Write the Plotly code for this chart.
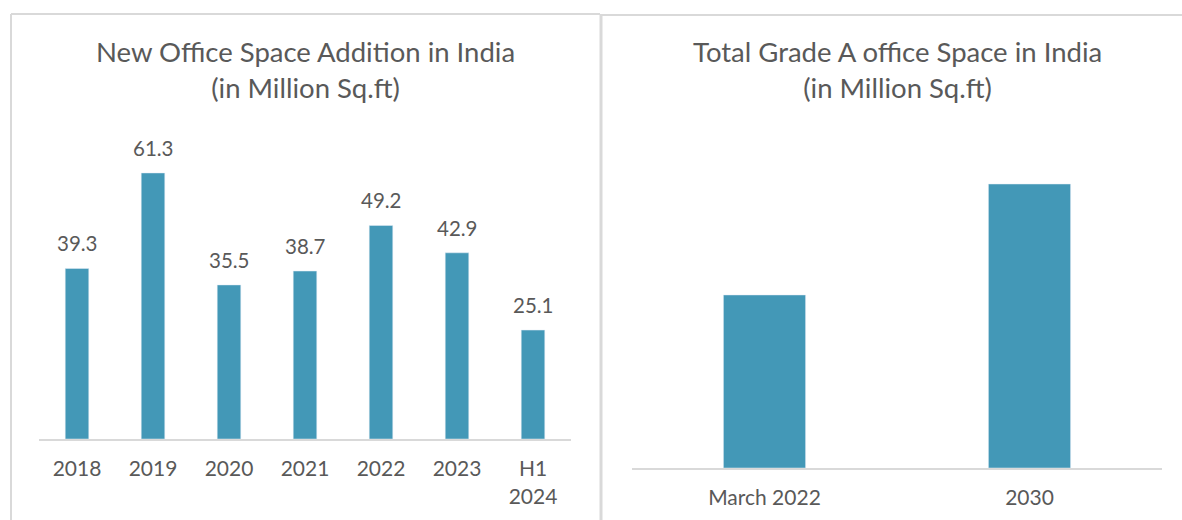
import plotly.graph_objects as go

# Data
left_categories = ["2018", "2019", "2020", "2021", "2022", "2023", "H1<br>2024"]
left_values = [39.3, 61.3, 35.5, 38.7, 49.2, 42.9, 25.1]
right_categories = ["March 2022", "2030"]
right_values = [800, 1313]

left_title = "New Office Space Addition in India<br>(in Million Sq.ft)"
right_title = "Total Grade A office Space in India<br>(in Million Sq.ft)"

W, H = 1182, 520
BAR = "#4398b7"
TXT = "#595959"
GRID = "#d9d9d9"
FONT = "Lato"

def px(x):
    return x / W

def py(y):
    return 1 - y / H

fig = go.Figure()
fig.add_trace(go.Bar(x=left_categories, y=left_values, marker_color=BAR,
                     xaxis="x", yaxis="y", showlegend=False, hoverinfo="x+y"))
fig.add_trace(go.Bar(x=right_categories, y=right_values, marker_color=BAR,
                     xaxis="x2", yaxis="y2", showlegend=False, hoverinfo="x+y"))

# data labels for left chart (x given as category index)
annotations = []
for i, v in enumerate(left_values):
    annotations.append(dict(x=i, y=v, xref="x", yref="y", text=f"{v}",
                            showarrow=False, yanchor="bottom", yshift=11,
                            font=dict(family=FONT, size=20.5, color=TXT)))

annotations.append(dict(x=px(305), y=py(70), xref="paper", yref="paper",
                        text=left_title, showarrow=False, align="center",
                        xanchor="center", yanchor="middle",
                        font=dict(family=FONT, size=27.5, color=TXT)))
annotations.append(dict(x=px(897), y=py(70), xref="paper", yref="paper",
                        text=right_title, showarrow=False, align="center",
                        xanchor="center", yanchor="middle",
                        font=dict(family=FONT, size=27.5, color=TXT)))

shapes = [
    # left panel border
    dict(type="line", xref="paper", yref="paper", x0=px(11), x1=px(600), y0=py(14), y1=py(14),
         line=dict(color=GRID, width=2)),
    dict(type="line", xref="paper", yref="paper", x0=px(11), x1=px(11), y0=py(14), y1=0,
         line=dict(color=GRID, width=2)),
    # divider
    dict(type="line", xref="paper", yref="paper", x0=px(601), x1=px(601), y0=py(14), y1=0,
         line=dict(color=GRID, width=3)),
    # right panel top border
    dict(type="line", xref="paper", yref="paper", x0=px(602), x1=1, y0=py(15), y1=py(15),
         line=dict(color=GRID, width=2)),
]

left_top = 130
left_bottom = 439
left_range = (left_bottom - left_top) / 4.34
right_top = 130
right_bottom = 468
right_range = (right_bottom - right_top) * (1313 / 284)

axis_common = dict(type="category", showgrid=False, zeroline=False, showline=True,
                   linecolor=GRID, linewidth=2,
                   ticks="outside", ticklen=10, tickcolor="rgba(0,0,0,0)",
                   tickfont=dict(family=FONT, size=21, color=TXT), fixedrange=True)

fig.update_layout(
    width=W, height=H,
    margin=dict(l=0, r=0, t=0, b=0),
    paper_bgcolor="white", plot_bgcolor="rgba(0,0,0,0)",
    bargap=0.69,
    xaxis=dict(domain=[px(39), px(571)], anchor="y",
               range=[-0.5, len(left_categories) - 0.5], **axis_common),
    yaxis=dict(domain=[py(left_bottom), py(left_top)], range=[0, left_range], visible=False,
               anchor="x", fixedrange=True),
    xaxis2=dict(domain=[px(632), px(1162)], anchor="y2",
                range=[-0.5, len(right_categories) - 0.5], **axis_common),
    yaxis2=dict(domain=[py(right_bottom), py(right_top)], range=[0, right_range], visible=False,
                anchor="x2", fixedrange=True),
    annotations=annotations,
    shapes=shapes,
    font=dict(family=FONT, color=TXT),
)

fig.write_html("out.html", config={"displayModeBar": False},
               post_script="document.body.style.margin='0';document.body.style.overflow='hidden';")
